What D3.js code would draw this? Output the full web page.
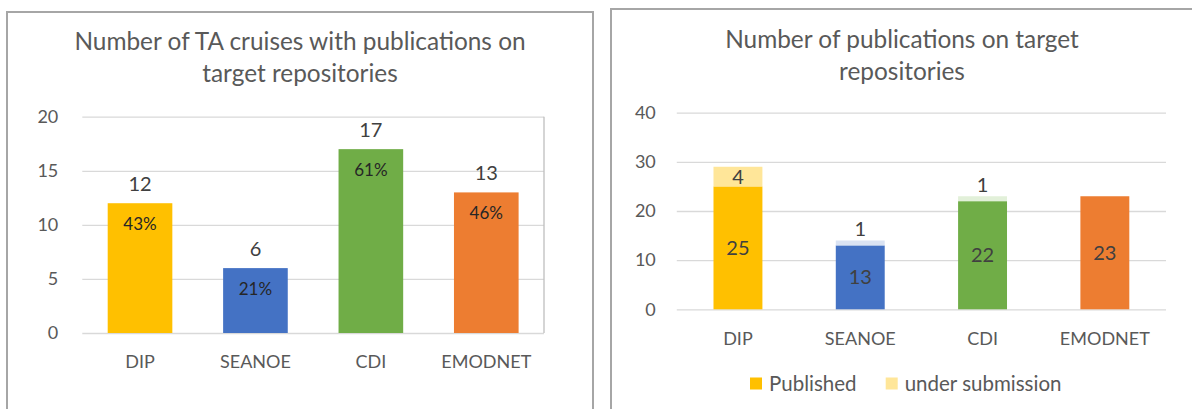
<!DOCTYPE html>
<html>
<head>
<meta charset="utf-8">
<script src="https://cdn.jsdelivr.net/npm/d3@7"></script>
<style>
  body { margin: 0; background: #fff; }
  svg { display: block; font-family: Lato, "Noto Sans", sans-serif; }
</style>
</head>
<body>
<svg id="chart" width="1192" height="409"></svg>
<script>
// data
const categories = ["DIP", "SEANOE", "CDI", "EMODNET"];
const cruises = [12, 6, 17, 13];
const cruiseShare = [43, 21, 61, 46];
const published = [25, 13, 22, 23];
const underSubmission = [4, 1, 1, 0];
const leftTicks = [0, 5, 10, 15, 20];
const rightTicks = [0, 10, 20, 30, 40];
const legendLabels = ["Published", "under submission"];

// colours
const barColors = ["#FFC000", "#4472C4", "#70AD47", "#ED7D31"];
const lightColors = ["#FFE699", "#DAE3F3", "#E2F0D9", "#FBE5D6"];
const textGrey = "#595959";
const gridGrey = "#D9D9D9";

const svg = d3.select("#chart");

// panel frames
svg.append("path")
  .attr("d", "M7,420 V12 H593 V420")
  .attr("fill", "none").attr("stroke", "#A6A6A6").attr("stroke-width", 2);
svg.append("path")
  .attr("d", "M611,420 V9 H1200")
  .attr("fill", "none").attr("stroke", "#A6A6A6").attr("stroke-width", 2);

function title(lines, cx, y0) {
  const t = svg.append("text")
    .attr("text-anchor", "middle").attr("font-size", "24.4px").attr("fill", textGrey);
  lines.forEach((s, i) => {
    t.append("tspan").attr("x", cx).attr("y", y0 + i * 32).text(s);
  });
}

function yAxis(g, y, ticks, left, right, pad) {
  g.attr("transform", `translate(${left},0)`)
    .call(d3.axisLeft(y).tickValues(ticks).tickSize(-(right - left)).tickPadding(pad))
    .call(a => a.select(".domain").remove())
    .call(a => a.selectAll("line").attr("stroke", gridGrey).attr("stroke-width", 1.3))
    .call(a => a.selectAll("text").attr("fill", textGrey).attr("font-size", "18px")
      .attr("font-family", "Lato, 'Noto Sans', sans-serif"));
}

function xAxis(g, x, y0, pad) {
  g.attr("transform", `translate(0,${y0})`)
    .call(d3.axisBottom(x).tickSize(0).tickPadding(pad))
    .call(a => a.select(".domain").remove())
    .call(a => a.selectAll("text").attr("fill", textGrey).attr("font-size", "18px")
      .attr("font-family", "Lato, 'Noto Sans', sans-serif"));
}

// ---------- left chart ----------
title(["Number of TA cruises with publications on", "target repositories"], 300, 50);

const xL = d3.scaleBand().domain(categories).range([82.3, 544]).paddingInner(0.44).paddingOuter(0.22);
const yL = d3.scaleLinear().domain([0, 20]).range([333, 116.7]);

yAxis(svg.append("g"), yL, leftTicks, 82.3, 544, 24);
svg.append("line")
  .attr("x1", 544).attr("x2", 544).attr("y1", yL(20)).attr("y2", yL(0))
  .attr("stroke", "#BFBFBF").attr("stroke-width", 1.3);
xAxis(svg.append("g"), xL, yL(0), 22.7);

const leftBars = svg.append("g");
categories.forEach((c, i) => {
  leftBars.append("rect")
    .attr("x", xL(c)).attr("width", xL.bandwidth())
    .attr("y", yL(cruises[i])).attr("height", yL(0) - yL(cruises[i]))
    .attr("fill", barColors[i]);
  leftBars.append("text")
    .attr("x", xL(c) + xL.bandwidth() / 2).attr("y", yL(cruises[i]) - 12.5)
    .attr("text-anchor", "middle").attr("font-size", "20px").attr("fill", "#404040")
    .text(cruises[i]);
  leftBars.append("text")
    .attr("x", xL(c) + xL.bandwidth() / 2).attr("y", yL(cruises[i]) + 26.5)
    .attr("text-anchor", "middle").attr("font-size", "17px").attr("fill", "#262626")
    .text(cruiseShare[i] + "%");
});

// ---------- right chart ----------
title(["Number of publications on target", "repositories"], 902, 48.3);

const xR = d3.scaleBand().domain(categories).range([676.8, 1166]).paddingInner(0.6).paddingOuter(0.3);
const yR = d3.scaleLinear().domain([0, 40]).range([309.3, 112.7]);

yAxis(svg.append("g"), yR, rightTicks, 676.8, 1166, 21);
xAxis(svg.append("g"), xR, yR(0), 23.4);

const rows = categories.map((c, i) => ({ cat: c, i, published: published[i], under: underSubmission[i] }));
const series = d3.stack().keys(["published", "under"])(rows);

const rightBars = svg.append("g");
series.forEach(s => {
  s.forEach(d => {
    const i = d.data.i;
    const h = yR(d[0]) - yR(d[1]);
    if (h <= 0) return;
    rightBars.append("rect")
      .attr("x", xR(d.data.cat)).attr("width", xR.bandwidth())
      .attr("y", yR(d[1])).attr("height", h)
      .attr("fill", s.key === "published" ? barColors[i] : lightColors[i]);
  });
});

// segment labels (small segments get their label above the bar)
series.forEach(s => {
  s.forEach(d => {
    const v = d[1] - d[0];
    if (v <= 0) return;
    const cx = xR(d.data.cat) + xR.bandwidth() / 2;
    let cy = (yR(d[0]) + yR(d[1])) / 2;
    if (s.key === "under" && yR(d[0]) - yR(d[1]) < 12) cy = yR(d[1]) - 11;
    rightBars.append("text")
      .attr("x", cx).attr("y", cy).attr("dy", "0.35em")
      .attr("text-anchor", "middle").attr("font-size", "20px").attr("fill", "#404040")
      .text(v);
  });
});

// legend
const legend = svg.append("g");
const legendX = [750, 885.7];
legendLabels.forEach((s, k) => {
  legend.append("rect")
    .attr("x", legendX[k]).attr("y", 377.5).attr("width", 12).attr("height", 12)
    .attr("fill", k === 0 ? barColors[0] : lightColors[0]);
  legend.append("text")
    .attr("x", legendX[k] + 19).attr("y", 390.5)
    .attr("font-size", "20.5px").attr("fill", textGrey)
    .text(s);
});
</script>
</body>
</html>
